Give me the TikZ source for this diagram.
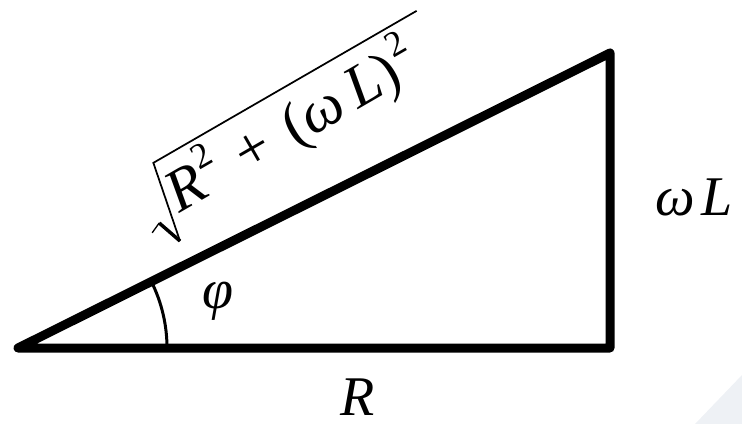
\documentclass[tikz,border=0pt]{standalone}
\usepackage{fontspec}
\setmainfont{Liberation Serif}[ItalicFont={* Italic}]
\usepackage{tikz}
\usepackage{xcolor}
\definecolor{faintgrey}{RGB}{238, 241, 245}
\newcommand{\sqtwo}{\raisebox{0.45em}{\fontsize{27}{30}\selectfont\upshape 2}}
\usetikzlibrary{positioning}

\begin{document}
\begin{tikzpicture}[x=0.75pt,y=-0.75pt,
    side/.style={line width=6.75pt,line join=round,line cap=round},
    lbl/.style={inner sep=0pt,font=\fontsize{42}{50}\selectfont\itshape}]
        \useasboundingbox (0,0) rectangle (742,424);
        \fill[faintgrey] (695,424) -- (742,375) -- (742,424) -- cycle;

        \coordinate (O) at (18,348);
        \coordinate (B) at (610,348);
        \coordinate (C) at (610,53);
        \draw[side] (O) -- (B) -- (C) -- cycle;
        \draw[line width=2.25pt] ([shift={(0:149)}]O) arc[start angle=0,end angle=-26.57,radius=149];

        \node[lbl] (phi) at (218,301) {φ};
        \node[lbl] (R) at (358,397) {R};
        \node[lbl] (wL) at (694,197) {ω\hspace{0.12em}L};

        % hypotenuse label, radical drawn by hand
        \begin{scope}[shift={(180,241)},rotate=30]
          \draw[line width=1pt,line join=miter] (-20,-21) -- (-9,-26);
          \draw[line width=2.6pt] (-9,-26) -- (0,0);
          \draw[line width=1.3pt] (0,0) -- (16,-81) -- (320,-81);
          \node[lbl,transform shape,anchor=base west,font=\fontsize{45}{52}\selectfont\itshape] (hyp) at (13,-24)
            {R\hspace{0.04em}\sqtwo\hspace{0.36em}\upshape+\hspace{0.36em}(\itshape ω\hspace{0.18em}L\upshape)\hspace{0.04em}\sqtwo};
        \end{scope}
      \end{tikzpicture}
\end{document}
